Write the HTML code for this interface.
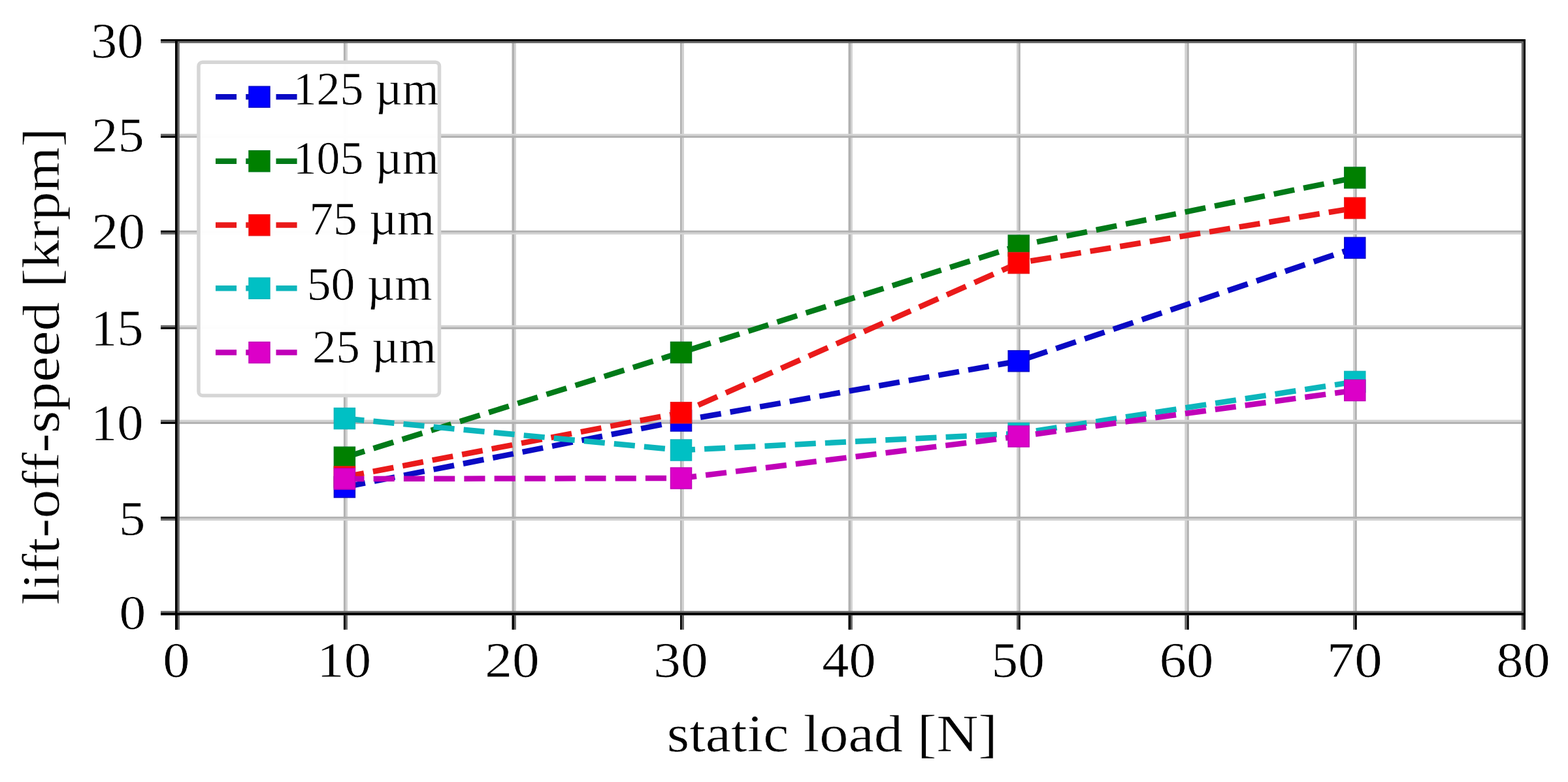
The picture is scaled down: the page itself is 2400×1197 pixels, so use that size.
<!DOCTYPE html>
<html><head><meta charset="utf-8"><title>lift-off-speed vs static load</title>
<style>html,body{margin:0;padding:0;background:#fff;}svg{display:block;}
text{font-family:"Liberation Serif",serif;stroke:#fff;stroke-width:0.6px;paint-order:normal;}</style></head>
<body>
<svg width="2400" height="1197" viewBox="0 0 2400 1197">
<rect x="0" y="0" width="2400" height="1197" fill="#fff"/>
<rect x="528.9" y="62" width="3.10" height="876" fill="#d2d2d2"/>
<rect x="525.9" y="62" width="3.00" height="876" fill="#b1b1b1"/>
<rect x="787" y="62" width="2.90" height="876" fill="#d2d2d2"/>
<rect x="783.5" y="62" width="3.50" height="876" fill="#b1b1b1"/>
<rect x="1043.8" y="62" width="3.20" height="876" fill="#d2d2d2"/>
<rect x="1041" y="62" width="2.80" height="876" fill="#b1b1b1"/>
<rect x="1302" y="62" width="2.90" height="876" fill="#d2d2d2"/>
<rect x="1298.5" y="62" width="3.50" height="876" fill="#b1b1b1"/>
<rect x="1556" y="62" width="3.00" height="876" fill="#d2d2d2"/>
<rect x="1559" y="62" width="2.80" height="876" fill="#b1b1b1"/>
<rect x="1813.3" y="62" width="3.50" height="876" fill="#d2d2d2"/>
<rect x="1816.8" y="62" width="3.00" height="876" fill="#b1b1b1"/>
<rect x="2071" y="62" width="3.00" height="876" fill="#d2d2d2"/>
<rect x="2074" y="62" width="2.80" height="876" fill="#b1b1b1"/>
<rect x="272" y="204.8" width="2058" height="3.00" fill="#d2d2d2"/>
<rect x="272" y="207.8" width="2058" height="3.10" fill="#b1b1b1"/>
<rect x="272" y="355.8" width="2058" height="3.10" fill="#d2d2d2"/>
<rect x="272" y="352.8" width="2058" height="3.00" fill="#b1b1b1"/>
<rect x="272" y="497.8" width="2058" height="3.00" fill="#d2d2d2"/>
<rect x="272" y="500.8" width="2058" height="3.10" fill="#b1b1b1"/>
<rect x="272" y="642.6" width="2058" height="3.20" fill="#d2d2d2"/>
<rect x="272" y="645.8" width="2058" height="3.10" fill="#b1b1b1"/>
<rect x="272" y="793.8" width="2058" height="3.10" fill="#d2d2d2"/>
<rect x="272" y="790.8" width="2058" height="3.00" fill="#b1b1b1"/>
<polyline points="527.40,745.50 1042.50,644.00 1559.20,552.70 2073.80,379.40" fill="none" stroke="#0a0ac4" stroke-width="8.5" stroke-dasharray="32.1 14.15" stroke-dashoffset="0" stroke-linecap="butt" stroke-linejoin="round"/>
<rect x="511.40" y="729.50" width="32" height="32" fill="#0000ff" stroke="#0a0ac4" stroke-width="1.5"/>
<rect x="1026.50" y="628.00" width="32" height="32" fill="#0000ff" stroke="#0a0ac4" stroke-width="1.5"/>
<rect x="1543.20" y="536.70" width="32" height="32" fill="#0000ff" stroke="#0a0ac4" stroke-width="1.5"/>
<rect x="2057.80" y="363.40" width="32" height="32" fill="#0000ff" stroke="#0a0ac4" stroke-width="1.5"/>
<polyline points="527.40,700.20 1042.50,539.50 1559.20,376.00 2073.80,272.00" fill="none" stroke="#007a18" stroke-width="8.5" stroke-dasharray="32.1 14.15" stroke-dashoffset="0" stroke-linecap="butt" stroke-linejoin="round"/>
<rect x="511.40" y="684.20" width="32" height="32" fill="#008000" stroke="#007a18" stroke-width="1.5"/>
<rect x="1026.50" y="523.50" width="32" height="32" fill="#008000" stroke="#007a18" stroke-width="1.5"/>
<rect x="1543.20" y="360.00" width="32" height="32" fill="#008000" stroke="#007a18" stroke-width="1.5"/>
<rect x="2057.80" y="256.00" width="32" height="32" fill="#008000" stroke="#007a18" stroke-width="1.5"/>
<polyline points="527.40,730.00 1042.50,631.80 1559.20,402.50 2073.80,318.50" fill="none" stroke="#ea1a1a" stroke-width="8.5" stroke-dasharray="32.1 14.15" stroke-dashoffset="2" stroke-linecap="butt" stroke-linejoin="round"/>
<rect x="511.40" y="714.00" width="32" height="32" fill="#ff0000" stroke="#ea1a1a" stroke-width="1.5"/>
<rect x="1026.50" y="615.80" width="32" height="32" fill="#ff0000" stroke="#ea1a1a" stroke-width="1.5"/>
<rect x="1543.20" y="386.50" width="32" height="32" fill="#ff0000" stroke="#ea1a1a" stroke-width="1.5"/>
<rect x="2057.80" y="302.50" width="32" height="32" fill="#ff0000" stroke="#ea1a1a" stroke-width="1.5"/>
<polyline points="527.40,640.60 1042.50,689.00 1559.20,663.50 2073.80,584.40" fill="none" stroke="#0cb6bc" stroke-width="8.5" stroke-dasharray="32.1 14.15" stroke-dashoffset="2" stroke-linecap="butt" stroke-linejoin="round"/>
<rect x="511.40" y="624.60" width="32" height="32" fill="#00c0c4" stroke="#0cb6bc" stroke-width="1.5"/>
<rect x="1026.50" y="673.00" width="32" height="32" fill="#00c0c4" stroke="#0cb6bc" stroke-width="1.5"/>
<rect x="1543.20" y="647.50" width="32" height="32" fill="#00c0c4" stroke="#0cb6bc" stroke-width="1.5"/>
<rect x="2057.80" y="568.40" width="32" height="32" fill="#00c0c4" stroke="#0cb6bc" stroke-width="1.5"/>
<polyline points="527.40,733.00 1042.50,732.00 1559.20,668.00 2073.80,597.50" fill="none" stroke="#c000b8" stroke-width="8.5" stroke-dasharray="32.1 14.15" stroke-dashoffset="2" stroke-linecap="butt" stroke-linejoin="round"/>
<rect x="511.40" y="717.00" width="32" height="32" fill="#dc00c8" stroke="#c000b8" stroke-width="1.5"/>
<rect x="1026.50" y="716.00" width="32" height="32" fill="#dc00c8" stroke="#c000b8" stroke-width="1.5"/>
<rect x="1543.20" y="652.00" width="32" height="32" fill="#dc00c8" stroke="#c000b8" stroke-width="1.5"/>
<rect x="2057.80" y="581.50" width="32" height="32" fill="#dc00c8" stroke="#c000b8" stroke-width="1.5"/>
<rect x="304" y="95.2" width="368.5" height="510.2" rx="6" ry="6" fill="#fff" fill-opacity="0.97" stroke="#d6d6d6" stroke-width="5.5"/>
<line x1="330" y1="148.30" x2="455" y2="148.30" stroke="#0a0ac4" stroke-width="8.5" stroke-dasharray="32.1 14.15"/>
<rect x="381.0" y="132.30" width="32" height="32" fill="#0000ff" stroke="#0a0ac4" stroke-width="1.5"/>
<text transform="matrix(1.0047,0,0,1,448.68,159.50)" font-size="71.5" fill="#000" >125 µm</text>
<line x1="330" y1="246.70" x2="455" y2="246.70" stroke="#007a18" stroke-width="8.5" stroke-dasharray="32.1 14.15"/>
<rect x="381.0" y="230.70" width="32" height="32" fill="#008000" stroke="#007a18" stroke-width="1.5"/>
<text transform="matrix(1.0047,0,0,1,448.68,265.50)" font-size="71.5" fill="#000" >105 µm</text>
<line x1="330" y1="344.60" x2="455" y2="344.60" stroke="#ea1a1a" stroke-width="8.5" stroke-dasharray="32.1 14.15"/>
<rect x="381.0" y="328.60" width="32" height="32" fill="#ff0000" stroke="#ea1a1a" stroke-width="1.5"/>
<text transform="matrix(1.0315,0,0,1,473.13,359.00)" font-size="71.5" fill="#000" >75 µm</text>
<line x1="330" y1="441.30" x2="455" y2="441.30" stroke="#0cb6bc" stroke-width="8.5" stroke-dasharray="32.1 14.15"/>
<rect x="381.0" y="425.30" width="32" height="32" fill="#00c0c4" stroke="#0cb6bc" stroke-width="1.5"/>
<text transform="matrix(1.0310,0,0,1,469.72,458.50)" font-size="71.5" fill="#000" >50 µm</text>
<line x1="330" y1="539.60" x2="455" y2="539.60" stroke="#c000b8" stroke-width="8.5" stroke-dasharray="32.1 14.15"/>
<rect x="381.0" y="523.60" width="32" height="32" fill="#dc00c8" stroke="#c000b8" stroke-width="1.5"/>
<text transform="matrix(1.0184,0,0,1,478.05,555.00)" font-size="71.5" fill="#000" >25 µm</text>
<rect x="246" y="63.2" width="2083" height="2.9" fill="#686868"/>
<rect x="272" y="935.2" width="2057" height="2.8" fill="#686868"/>
<rect x="271.8" y="60" width="3" height="904" fill="#686868"/>
<rect x="2328.8" y="60" width="3" height="904" fill="#686868"/>
<rect x="246" y="204.8" width="22" height="3.00" fill="#686868"/>
<rect x="246" y="207.8" width="22" height="3.10" fill="#000"/>
<rect x="246" y="355.8" width="22" height="3.10" fill="#686868"/>
<rect x="246" y="352.8" width="22" height="3.00" fill="#000"/>
<rect x="246" y="497.8" width="22" height="3.00" fill="#686868"/>
<rect x="246" y="500.8" width="22" height="3.10" fill="#000"/>
<rect x="246" y="642.6" width="22" height="3.20" fill="#686868"/>
<rect x="246" y="645.8" width="22" height="3.10" fill="#000"/>
<rect x="246" y="793.8" width="22" height="3.10" fill="#686868"/>
<rect x="246" y="790.8" width="22" height="3.00" fill="#000"/>
<rect x="246" y="935.2" width="22" height="2.8" fill="#686868"/>
<rect x="246" y="938" width="22" height="3.8" fill="#000"/>
<rect x="528.9" y="941.8" width="3.10" height="22" fill="#686868"/>
<rect x="525.9" y="941.8" width="3.00" height="22" fill="#000"/>
<rect x="787" y="941.8" width="2.90" height="22" fill="#686868"/>
<rect x="783.5" y="941.8" width="3.50" height="22" fill="#000"/>
<rect x="1043.8" y="941.8" width="3.20" height="22" fill="#686868"/>
<rect x="1041" y="941.8" width="2.80" height="22" fill="#000"/>
<rect x="1302" y="941.8" width="2.90" height="22" fill="#686868"/>
<rect x="1298.5" y="941.8" width="3.50" height="22" fill="#000"/>
<rect x="1556" y="941.8" width="3.00" height="22" fill="#686868"/>
<rect x="1559" y="941.8" width="2.80" height="22" fill="#000"/>
<rect x="1813.3" y="941.8" width="3.50" height="22" fill="#686868"/>
<rect x="1816.8" y="941.8" width="3.00" height="22" fill="#000"/>
<rect x="2071" y="941.8" width="3.00" height="22" fill="#686868"/>
<rect x="2074" y="941.8" width="2.80" height="22" fill="#000"/>
<rect x="271.8" y="941.8" width="3.00" height="22" fill="#686868"/>
<rect x="268" y="941.8" width="3.80" height="22" fill="#000"/>
<rect x="2328.8" y="941.8" width="3.00" height="22" fill="#686868"/>
<rect x="2331.8" y="941.8" width="3.20" height="22" fill="#000"/>
<rect x="246" y="60" width="2089" height="3.2" fill="#000"/>
<rect x="268" y="938" width="2067" height="3.8" fill="#000"/>
<rect x="268" y="60" width="3.8" height="904" fill="#000"/>
<rect x="2331.8" y="60" width="3.2" height="904" fill="#000"/>
<text transform="matrix(1.0737,0,0,1.0054,139.03,87.67)" font-size="75" fill="#000">30</text>
<text transform="matrix(1.0731,0,0,0.9921,140.36,232.18)" font-size="75" fill="#000">25</text>
<text transform="matrix(1.0908,0,0,1.0291,140.30,379.85)" font-size="75" fill="#000">20</text>
<text transform="matrix(1.0752,0,0,1.0368,138.90,527.54)" font-size="75" fill="#000">15</text>
<text transform="matrix(1.0740,0,0,1.0311,138.91,673.15)" font-size="75" fill="#000">10</text>
<text transform="matrix(1.0786,0,0,0.9825,182.01,819.29)" font-size="75" fill="#000">5</text>
<text transform="matrix(1.0881,0,0,0.9857,182.60,963.29)" font-size="75" fill="#000">0</text>
<text transform="matrix(1.1006,0,0,1.0114,249.36,1035.67)" font-size="75" fill="#000">0</text>
<text transform="matrix(1.1060,0,0,1.0114,485.20,1035.67)" font-size="75" fill="#000">10</text>
<text transform="matrix(1.1111,0,0,1.0114,742.33,1035.67)" font-size="75" fill="#000">20</text>
<text transform="matrix(1.1116,0,0,1.0114,1000.20,1035.67)" font-size="75" fill="#000">30</text>
<text transform="matrix(1.0970,0,0,1.0114,1258.35,1035.67)" font-size="75" fill="#000">40</text>
<text transform="matrix(1.0855,0,0,1.0114,1517.48,1035.67)" font-size="75" fill="#000">50</text>
<text transform="matrix(1.1055,0,0,1.0114,1774.53,1035.67)" font-size="75" fill="#000">60</text>
<text transform="matrix(1.1339,0,0,1.0114,2030.79,1035.67)" font-size="75" fill="#000">70</text>
<text transform="matrix(1.0996,0,0,1.0114,2290.37,1035.67)" font-size="75" fill="#000">80</text>
<text transform="matrix(1.1057,0,0,1,1020.87,1150.00)" font-size="80" fill="#000" >static load [N]</text>
<text transform="matrix(0,-1.1020,1,0,90,925.76)" font-size="80" fill="#000">lift-off-speed [krpm]</text>
</svg>
</body></html>
